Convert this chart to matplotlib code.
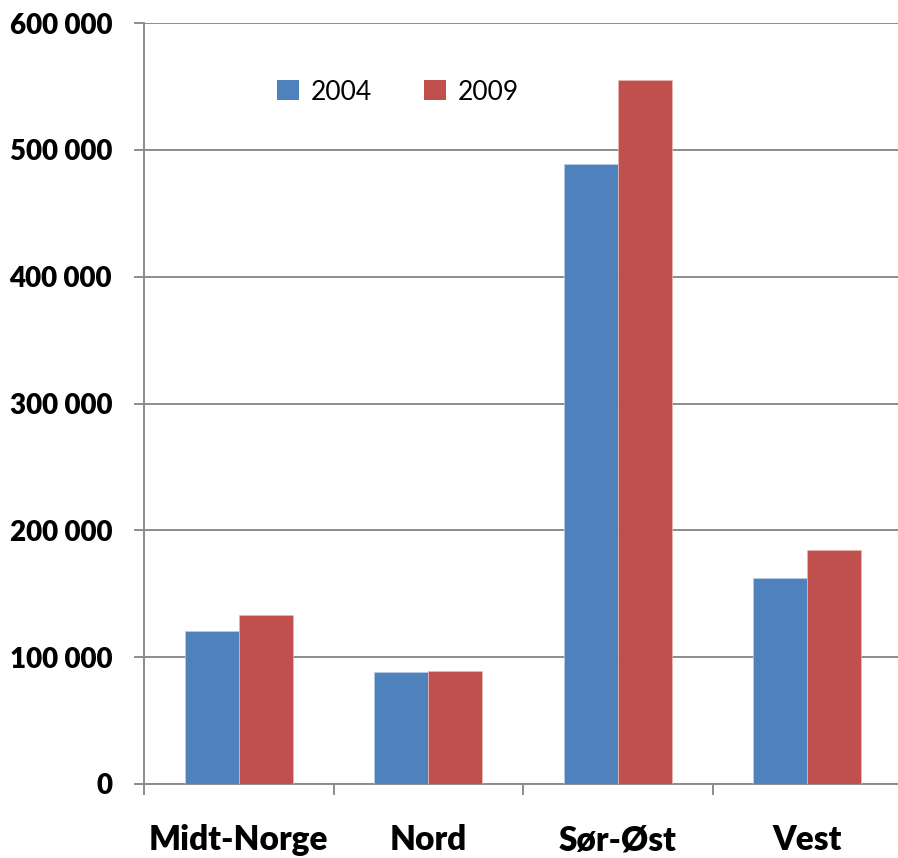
import numpy as np
import matplotlib.pyplot as plt
from matplotlib.ticker import FuncFormatter, FixedLocator

# data
regions = ["Midt-Norge", "Nord", "Sør-Øst", "Vest"]
years = ["2004", "2009"]
values_2004 = [120700, 88400, 489200, 162700]
values_2009 = [133600, 89000, 555100, 184300]

blue = "#4F81BD"
red = "#C0504D"
grid_col = "#8C8C8C"

fig = plt.figure(figsize=(8.98, 8.58), dpi=100)
ax = fig.add_axes([144 / 898, 1 - 784 / 858, 758 / 898, (784 - 23) / 858])

x = np.arange(len(regions))
w = 0.285
ax.bar(x - w / 2, values_2004, w, color=blue, label=years[0], edgecolor="#B9CDE5", linewidth=0.5, zorder=3)
ax.bar(x + w / 2, values_2009, w, color=red, label=years[1], edgecolor="#E6B9B8", linewidth=0.5, zorder=3)

ax.set_xlim(-0.5, 3.5)
ax.set_ylim(0, 600000)
ax.set_yticks(np.arange(0, 600001, 100000))
ax.yaxis.set_major_formatter(FuncFormatter(lambda v, p: f"{int(v):,}".replace(",", " ")))
ax.grid(axis="y", color=grid_col, linewidth=1.4, zorder=0)

ax.set_xticks(x)
ax.set_xticklabels(regions, fontfamily="Lato", fontweight="heavy", fontsize=24)
ax.xaxis.set_minor_locator(FixedLocator([-0.5, 0.5, 1.5, 2.5]))
ax.tick_params(axis="x", which="major", length=0, pad=29)
ax.tick_params(axis="x", which="minor", length=8, width=1.4, color=grid_col)
ax.tick_params(axis="y", length=7, width=1.4, color=grid_col, pad=16)
for lbl in ax.get_yticklabels():
    lbl.set_fontfamily("Lato")
    lbl.set_fontweight("heavy")
    lbl.set_fontsize(20)

for s in ["top", "right"]:
    ax.spines[s].set_visible(False)
for s in ["left", "bottom"]:
    ax.spines[s].set_color(grid_col)
    ax.spines[s].set_linewidth(1.4)

leg = ax.legend(loc="center", bbox_to_anchor=(398 / 898, 1 - 92 / 858), bbox_transform=fig.transFigure,
                ncol=2, frameon=False, handlelength=0.8, handleheight=0.8, handletextpad=0.45,
                columnspacing=2.0, prop={"family": "Lato", "size": 19})
for h in leg.legend_handles:
    h.set_linewidth(0)

fig.savefig("out.png", dpi=100)
